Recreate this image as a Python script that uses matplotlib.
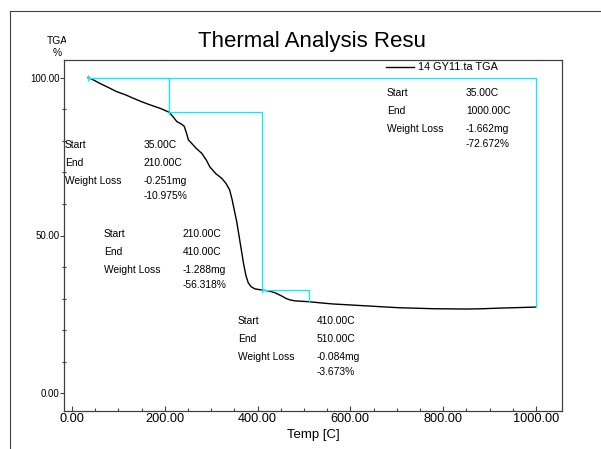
"""
TGA curve with step-wise weight loss brackets (Thermal Analysis Results).
Saves out.png (601x449).
"""

import matplotlib
matplotlib.use("Agg")
import matplotlib.pyplot as plt
from matplotlib.lines import Line2D
from matplotlib.transforms import Bbox
import numpy as np

plt.rcParams["font.family"] = ["Liberation Sans", "DejaVu Sans"]

# ── TGA curve (Temp [C] vs weight %) ─────────────────────────────────────────
temp = [35, 45, 60, 80, 96, 115, 132, 150, 168, 190, 210, 218, 226, 236, 242,
        247, 251, 258, 268, 280, 290, 297, 310, 323, 332, 340, 345, 350, 355,
        360, 365, 370, 375, 380, 386, 394, 410, 425, 437, 447, 455, 462, 470,
        480, 491, 510, 540, 563, 600, 635, 670, 707, 745, 779, 815, 851, 885,
        922, 960, 1000]
weight = [100.0, 99.4, 98.2, 96.8, 95.6, 94.6, 93.5, 92.4, 91.4, 90.3, 89.03,
          87.6, 86.1, 85.3, 84.6, 82.4, 80.3, 79.2, 77.6, 76.0, 73.8, 71.8,
          69.6, 68.1, 66.5, 64.4, 61.5, 58.0, 54.5, 50.0, 45.5, 41.0, 37.3,
          35.0, 33.8, 33.1, 32.71, 32.4, 31.9, 31.2, 30.6, 30.0, 29.6, 29.3,
          29.2, 29.03, 28.6, 28.3, 28.0, 27.7, 27.4, 27.1, 26.95, 26.8, 26.75,
          26.7, 26.8, 27.0, 27.15, 27.33]

# ── weight loss steps ────────────────────────────────────────────────────────
step_start = [35.0, 210.0, 410.0, 35.0]
step_end = [210.0, 410.0, 510.0, 1000.0]
step_mg = [-0.251, -1.288, -0.084, -1.662]
step_pct = [-10.975, -56.318, -3.673, -72.672]

# where each result block sits: (label x, first row y) in data units
block_pos = [(-15, 78.7), (69, 50.4), (358, 22.9), (679, 95.1)]

x_ticks = [0, 200, 400, 600, 800, 1000]
y_ticks = [0, 50, 100]

CYAN = "#00f0ff"
FRAME = "#404040"
W, H = 601, 449


def fx(px):
    return px / W


def fy(py):
    return 1 - py / H


def clip_right(txt, x_px):
    # cut the text off at a pixel column, the way the instrument software does
    txt.set_clip_box(Bbox.from_extents(0, 0, x_px, H))
    txt.set_clip_on(True)


fig = plt.figure(figsize=(W / 100, H / 100), dpi=100)
ax = fig.add_axes([fx(64), fy(411), fx(562) - fx(64), fy(60) - fy(411)])

ax.plot(temp, weight, color="black", lw=1.0, label="14 GY11.ta TGA")

w_at = dict(zip(temp, weight))
for t0, t1, pct in zip(step_start, step_end, step_pct):
    top = w_at[t0]
    ax.plot([t0, t1, t1], [top, top, top + pct], color=CYAN, lw=0.9)
    ax.plot([t0], [top], marker="|", ms=5, mew=0.9, color=CYAN)

# result text blocks
for (bx, by), t0, t1, mg, pct in zip(block_pos, step_start, step_end,
                                     step_mg, step_pct):
    rows = [("Start", f"{t0:.2f}C", 0), ("End", f"{t1:.2f}C", -18),
            ("Weight Loss", f"{mg:.3f}mg", -36), ("", f"{pct:.3f}%", -51)]
    for lab, val, dy in rows:
        if lab:
            ax.annotate(lab, (bx, by), xytext=(0, dy), textcoords="offset pixels",
                        fontsize=7.4, va="center", ha="left")
        ax.annotate(val, (bx, by), xytext=(79, dy), textcoords="offset pixels",
                    fontsize=7.4, va="center", ha="left")

ax.set_xlim(-17, 1056)
ax.set_ylim(-5.6, 105.6)
ax.set_xticks(x_ticks)
ax.set_xticklabels([f"{v:.2f}" for v in x_ticks])
ax.set_xticks(np.arange(50, 1050, 50), minor=True)
ax.set_yticks(y_ticks)
ax.set_yticklabels([f"{v:.2f}" for v in y_ticks])
ax.set_yticks(np.arange(10, 101, 10), minor=True)

ax.tick_params(axis="x", which="major", direction="in", length=3.5, width=0.8,
               labelsize=9.2, pad=1.5, color=FRAME)
ax.tick_params(axis="x", which="minor", direction="in", length=2, width=0.8,
               color=FRAME)
ax.tick_params(axis="y", which="major", direction="out", length=3, width=0.8,
               labelsize=7, pad=0, color=FRAME)
ax.tick_params(axis="y", which="minor", direction="inout", length=3, width=0.8,
               color=FRAME)
for sp in ax.spines.values():
    sp.set_color(FRAME)
    sp.set_linewidth(0.9)

ax.set_xlabel("Temp [C]", fontsize=9.5, labelpad=3)

leg = ax.legend(loc="center left", bbox_to_anchor=(0.647, 0.979),
                frameon=False, fontsize=7.8, handlelength=2.6,
                handletextpad=0.3, borderpad=0, borderaxespad=0)
for t in leg.get_texts():
    clip_right(t, 504)

# title and y axis caption above the plot
title = fig.text(fx(198), fy(41), "Thermal Analysis Results", fontsize=16,
                 ha="left", va="center")
clip_right(title, 426)
ylab = fig.text(fx(47), fy(41), "TGA", fontsize=7.4, ha="left", va="center")
clip_right(ylab, 66)
fig.text(fx(57), fy(53), "%", fontsize=7.4, ha="center", va="center")

# outer page frame
fig.add_artist(Line2D([fx(10), 1], [fy(11), fy(11)], color=FRAME, lw=0.8,
                      transform=fig.transFigure))
fig.add_artist(Line2D([fx(10), fx(10)], [fy(11), 0], color=FRAME, lw=0.8,
                      transform=fig.transFigure))

fig.savefig("out.png", dpi=100)
